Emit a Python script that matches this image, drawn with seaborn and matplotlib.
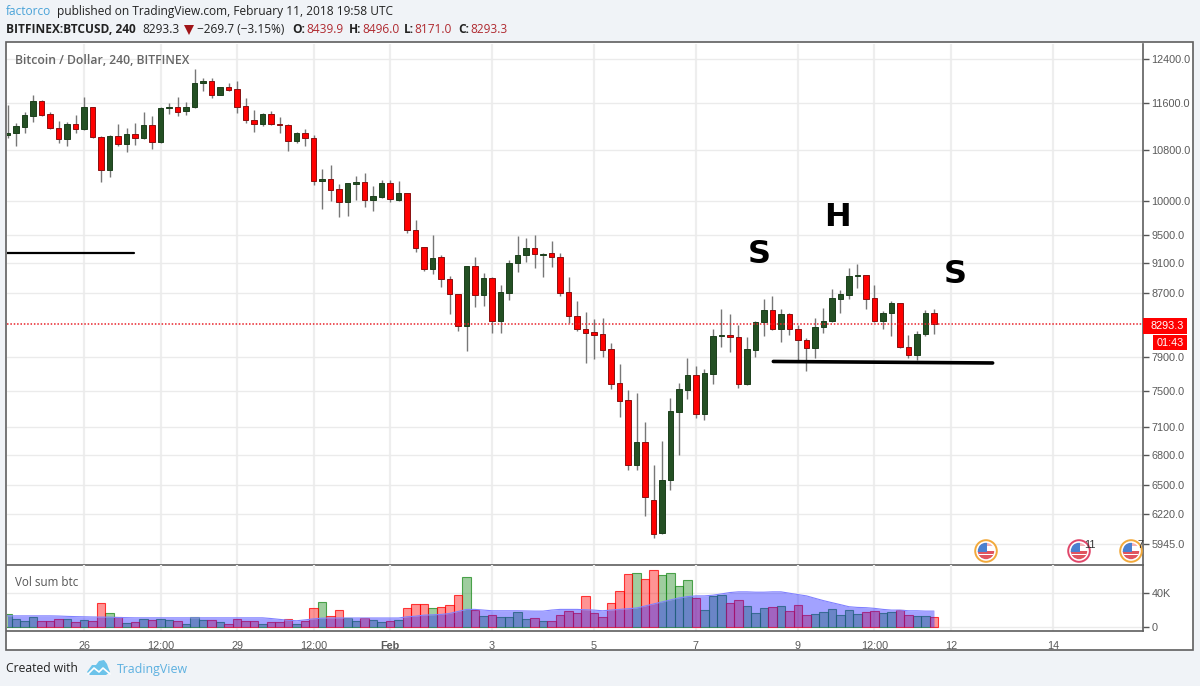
import numpy as np
import pandas as pd
import seaborn as sns
import matplotlib.pyplot as plt
from matplotlib.patches import Circle, Rectangle, Polygon
from matplotlib.ticker import NullLocator

opens = [11051,11080,11191,11379,11635,11409,11164,10985,11237,11147,11525,11023,10486,11035,10902,11068,11001,11220,10930,11508,
         11525,11456,11525,11952,11988,11747,11880,11843,11542,11305,11232,11409,11237,11220,10951,11085,11001,10307,10334,10178,
         9990,10266,10287,10020,10064,10272,10015,10117,9570,9322,9021,9183,8881,8685,8274,9058,8668,8895,8334,8703,
         9108,9218,9317,9215,9238,9191,8708,8400,8236,8195,8171,7987,7586,7397,6703,6944,6357,6045,6553,7267,
         7510,7679,7245,7694,8150,8167,8138,7578,7979,8321,8478,8232,8427,8237,8105,8003,8266,8334,8620,8676,
         8921,8935,8629,8334,8435,8564,8019,7917,8171,8439.9]
highs = [11565,11259,11438,11742,11653,11449,11288,11276,11391,11700,11536,11035,11051,11237,11164,11248,11443,11374,11536,11595,
         11700,11623,12207,12043,12048,11890,11952,11994,11683,11478,11420,11456,11362,11237,11102,11152,11051,10492,10560,10257,
         10277,10385,10429,10230,10323,10323,10307,10120,9716,9325,9498,9215,8930,8690,9060,9191,8962,8917,8800,9145,
         9488,9459,9502,9238,9416,9238,8909,8594,8446,8362,8375,8068,7808,7510,7473,7154,6700,6948,7416,7586,
         7879,7788,7749,8240,8491,8427,8287,8138,8341,8616,8658,8491,8435,8287,8122,8375,8500,8747,8738,9030,
         9090,8940,8800,8465,8590,8570,8167,8208,8478,8496]
lows = [10996,10869,11080,11266,11379,11147,10913,10869,11080,11135,11006,10297,10376,10869,10770,10880,10990,10820,10913,11404,
        11369,11396,11513,11819,11683,11736,11819,11432,11259,11097,11203,11214,11080,10787,10923,10869,10237,9875,10004,9764,
        9779,10015,9914,9853,10040,9980,10004,9523,9256,8998,8957,8782,8427,8215,7967,8521,8534,8183,8190,8607,
        8984,9117,9030,8917,9053,8664,8315,8208,7820,7867,7899,7525,7212,6653,6653,6207,5999,6040,6454,6802,
        7412,7201,7176,7578,8019,7951,7537,7567,7891,8154,8224,8073,8167,7839,7729,7879,8183,8325,8443,8620,
        8768,8495,8325,8232,8154,8006,7881,7859,8150,8171]
closes = [11080,11203,11391,11635,11396,11164,10980,11237,11147,11530,11018,10486,11035,10902,11068,11001,11220,10935,11513,11530,
          11449,11530,11952,11988,11747,11880,11836,11536,11300,11232,11409,11232,11220,10951,11085,11001,10307,10334,10173,9990,
          10272,10287,10020,10069,10272,10026,10117,9566,9312,9021,9177,8881,8681,8274,9058,8668,8895,8334,8708,9108,
          9218,9317,9228,9233,9186,8703,8397,8232,8183,8158,7979,7578,7389,6706,6944,6383,6038,6553,7275,7521,
          7679,7245,7702,8154,8163,8134,7582,7987,8325,8478,8232,8427,8232,8097,8003,8262,8338,8633,8685,8921,
          8935,8624,8334,8435,8564,8019,7921,8175,8435,8293.3]
# volume in thousands
volume = [14.5,9.0,7.1,11.8,6.7,6.7,9.0,9.0,5.5,7.8,7.1,27.5,15.7,11.0,5.1,5.9,9.0,8.6,9.8,7.8,
          6.7,3.9,11.0,8.2,8.6,5.9,3.9,9.0,6.7,7.1,3.9,5.9,6.3,9.8,3.9,6.7,21.6,28.6,13.3,19.6,
          10.2,7.1,10.2,7.8,5.5,7.1,7.8,21.6,26.3,26.3,21.6,22.7,25.5,36.9,58.0,19.6,12.5,13.7,11.0,11.0,
          17.3,9.8,10.6,6.7,6.7,13.7,18.8,15.7,36.1,15.7,11.0,27.5,41.6,61.6,62.7,55.7,66.3,60.4,62.7,47.5,
          54.5,33.7,19.6,36.1,37.3,27.8,31.4,24.3,16.1,22.0,23.1,24.3,18.0,25.5,14.1,14.9,17.3,20.4,13.7,19.6,
          14.9,17.6,18.4,15.7,17.3,19.6,13.7,12.5,12.5,11.4]
vol_ma = [12.9,12.9,12.9,12.9,12.9,12.9,12.7,12.3,12.0,11.8,11.6,11.4,11.4,11.0,10.8,10.6,10.6,10.6,10.6,10.6,
          10.6,10.6,10.6,10.6,10.6,10.6,10.6,10.6,10.6,10.6,10.6,9.8,8.8,7.8,7.2,8.2,9.4,10.2,10.4,10.4,
          10.4,10.4,10.4,10.4,10.4,10.4,10.4,11.8,12.5,13.7,14.1,14.5,15.7,18.0,20.4,20.4,19.6,18.8,18.8,18.8,
          18.8,18.6,18.4,18.4,19.6,20.4,20.4,20.4,20.0,19.6,18.8,19.6,20.4,21.2,22.0,24.3,26.7,29.0,31.4,33.7,
          35.3,36.1,36.1,36.9,38.4,40.0,40.8,40.8,40.4,40.4,40.8,40.8,39.2,37.6,36.1,33.3,30.6,28.2,25.9,23.5,
          22.7,22.4,21.6,20.4,19.6,19.6,18.8,18.8,18.4,18.4]

price_ticks = [12400,11600,10800,10000,9500,9100,8700,7900,7500,7100,6800,6500,6220,5945]
time_ticks = [9,18,27,36,45,57,69,81,93,102,111,123]
time_labels = ['26','12:00','29','12:00','Feb','3','5','7','9','12:00','12','14']
last_price = 8293.3
trend_left = ([-0.1, 14.9], [9241, 9241])
trend_right = ([90.1, 115.9], [7841, 7823])

W, H = 1200, 686
sns.set_theme(style="white")
plt.rcParams['font.family'] = ['Liberation Sans', 'DejaVu Sans']
BG = '#f0f3f7'
RED = '#ff0000'
GREEN = '#245024'
GREY = '#5a5a5a'

fig = plt.figure(figsize=(W/100, H/100), dpi=100, facecolor=BG)

def px_axes(x0, y0, x1, y1):
    return fig.add_axes([x0/W, 1-y1/H, (x1-x0)/W, (y1-y0)/H])

# pixel overlay for the frame, header and icons
back = px_axes(0, 0, W, H)
back.set_xlim(0, W); back.set_ylim(H, 0); back.axis('off')
back.add_patch(Rectangle((6, 42), 1187, 608, fc='white', ec='#5f5f5f', lw=1.2))

ax = px_axes(6.5, 44, 1143, 565)
ax_vol = px_axes(6.5, 565, 1143, 631)
for a in (ax, ax_vol):
    a.patch.set_alpha(0)

idx = np.arange(len(opens))
o, h, l, c = map(np.array, (opens, highs, lows, closes))
up = c >= o

# price pane
ax.set_yscale('log')
ax.vlines(idx, l, h, color='#777777', lw=1, zorder=2)
top = np.maximum(o, c)
bot = np.minimum(o, c)
ax.bar(idx[up], (top-bot)[up], bottom=bot[up], width=0.7, color=GREEN, edgecolor='#1c3f1c', lw=0.7, zorder=3)
ax.bar(idx[~up], (top-bot)[~up], bottom=bot[~up], width=0.7, color=RED, edgecolor='#8a1010', lw=0.7, zorder=3)
ax.axhline(last_price, color='#e8222a', lw=1.1, ls=(0, (1, 1.2)), zorder=4)
ax.plot(*trend_left, color='black', lw=1.6, zorder=5)
ax.plot(*trend_right, color='black', lw=2.6, zorder=5)
ax.text(88.4, 9215, 'S', fontsize=23, fontweight='bold', family='DejaVu Sans', ha='center', va='center', color='black')
ax.text(97.6, 9755, 'H', fontsize=23, fontweight='bold', family='DejaVu Sans', ha='center', va='center', color='black')
ax.text(111.5, 8947, 'S', fontsize=23, fontweight='bold', family='DejaVu Sans', ha='center', va='center', color='black')
ax.set_xlim(-0.12, 133.59)
ax.set_ylim(5760, 12685)
ax.yaxis.set_minor_locator(NullLocator())
ax.yaxis.tick_right()
ax.set_yticks(price_ticks)
ax.set_yticklabels([f'{v:.1f}' for v in price_ticks])
ax.set_xticks(time_ticks)
ax.tick_params(axis='x', length=0, labelbottom=False)
ax.tick_params(axis='y', length=4, width=1, color='#555555', labelcolor=GREY, labelsize=7.8, pad=2)
ax.grid(True, color='#ebebeb', lw=1)
ax.xaxis.grid(True, color='#eeeeee', lw=1.6)
ax.set_axisbelow(True)

# volume pane
vol_df = pd.DataFrame({'bar': idx, 'volume': volume, 'side': np.where(up, 'up', 'down')})
sns.barplot(data=vol_df, x='bar', y='volume', hue='side', hue_order=['up', 'down'], dodge=False,
            palette={'up': '#1c8a1c', 'down': '#ff0000'}, native_scale=True, width=1.0,
            saturation=1, legend=False, ax=ax_vol, zorder=2)
for bar in ax_vol.patches:
    col = bar.get_facecolor()
    bar.set_facecolor((*col[:3], 0.42))
    bar.set_edgecolor((*col[:3], 0.75))
    bar.set_linewidth(0.8)
ma_x = idx[:len(vol_ma)]
ax_vol.fill_between(ma_x, 0, vol_ma, color='#2222ff', alpha=0.42, lw=0, zorder=3)
sns.lineplot(x=ma_x, y=vol_ma, color='#8080ff', lw=0.8, ax=ax_vol, zorder=3)
ax_vol.set_xlim(-0.12, 133.59)
ax_vol.set_ylim(-4.7, 72)
ax_vol.yaxis.tick_right()
ax_vol.yaxis.set_label_position('right')
ax_vol.set_yticks([0, 40])
ax_vol.set_yticklabels(['0', '40K'])
ax_vol.set_xticks(time_ticks)
ax_vol.set_xticklabels(time_labels)
ax_vol.set_xlabel('')
ax_vol.set_ylabel('')
ax_vol.tick_params(axis='both', length=4, width=1, color='#555555', labelcolor=GREY, labelsize=7.8, pad=2)
ax_vol.tick_params(axis='x', pad=3)
ax_vol.grid(True, color='#ebebeb', lw=1)
ax_vol.xaxis.grid(True, color='#eeeeee', lw=1.6)
ax_vol.set_axisbelow(True)
for t in ax_vol.get_xticklabels():
    if t.get_text() == 'Feb':
        t.set_fontweight('bold')

for a in (ax, ax_vol):
    for side in ('top', 'left'):
        a.spines[side].set_visible(False)
    for side in ('bottom', 'right'):
        a.spines[side].set_color('#5f5f5f')
        a.spines[side].set_linewidth(1.2)
        a.spines[side].set_visible(True)

# overlay
ov = px_axes(0, 0, W, H)
ov.set_xlim(0, W); ov.set_ylim(H, 0); ov.axis('off'); ov.patch.set_alpha(0)

def label(x, y, s, color='#222222', weight='normal', size=8.6, family='Open Sans'):
    ov.text(x, y, s, color=color, fontweight=weight, fontsize=size, family=family, va='center', ha='left')

label(6, 11.5, 'factorco', color='#4aa3d8')
label(57, 11.5, 'published on TradingView.com, February 11, 2018 19:58 UTC')
label(6, 29.5, 'BITFINEX:BTCUSD, 240', weight='bold')
label(142, 29.5, '8293.3')
ov.add_patch(Polygon([(184, 25), (194, 25), (189, 35)], fc='#a01418', ec='none'))
label(197, 29.5, '\u2212269.7 (\u22123.15%)')
label(292, 29.5, 'O:', weight='bold')
label(306, 29.5, '8439.9', color='#b02a30')
label(349, 29.5, 'H:', weight='bold')
label(362, 29.5, '8496.0', color='#b02a30')
label(404, 29.5, 'L:', weight='bold')
label(414, 29.5, '8171.0', color='#b02a30')
label(458, 29.5, 'C:', weight='bold')
label(470, 29.5, '8293.3', color='#b02a30')
label(15, 60, 'Bitcoin / Dollar, 240, BITFINEX', color='#666666', weight='semibold', size=8.8)
label(15, 582, 'Vol sum btc', color='#555555', size=8.4)
label(6, 669, 'Created with', size=8.7)
label(117, 669, 'TradingView', color='#5cb0e0', size=8.9)

# logo
ov.add_patch(Polygon([(87, 672), (92, 665), (96, 665), (99, 661), (104, 660), (107, 664), (108, 667), (110, 672),
                      (106, 675), (90, 675)], fc='#6cc3ea', ec='none'))
ov.plot([88, 94, 99, 103, 110], [674, 668, 672, 668, 674], color='white', lw=1.2)

# last price tags
ov.add_patch(Rectangle((1143, 318), 44, 15.5, fc='#ff0000', ec='none'))
ov.add_patch(Rectangle((1153, 334.5), 34, 15.5, fc='#ff0000', ec='none'))
ov.text(1184, 325.8, '8293.3', color='white', fontsize=7.8, ha='right', va='center')
ov.text(1184, 342.5, '01:43', color='white', fontsize=7.8, ha='right', va='center')

# event flags
for cx, ring, num, num_x in [(986, '#f2a93b', '', 0), (1079, '#e0476a', '11', 1084), (1131, '#f2a93b', '7', 1137)]:
    ov.add_patch(Circle((cx, 551), 10.8, fc='white', ec=ring, lw=1.4))
    inner = Circle((cx, 551), 8.2, transform=ov.transData)
    flag = [Rectangle((cx-9, 551), 18, 9, fc='#e0555f', ec='none'),
            Rectangle((cx-9, 553.5), 18, 1.6, fc='white', ec='none'),
            Rectangle((cx-9, 543), 18, 3, fc='#f3b0b5', ec='none'),
            Rectangle((cx-9, 542), 9.5, 10, fc='#4a80d0', ec='none')]
    for p in flag:
        ov.add_patch(p)
        p.set_clip_path(inner)
    if num:
        ov.text(num_x, 544.5, num, fontsize=7.8, color='#333333', va='center', ha='left')

fig.savefig('out.png', dpi=100, facecolor=BG)
